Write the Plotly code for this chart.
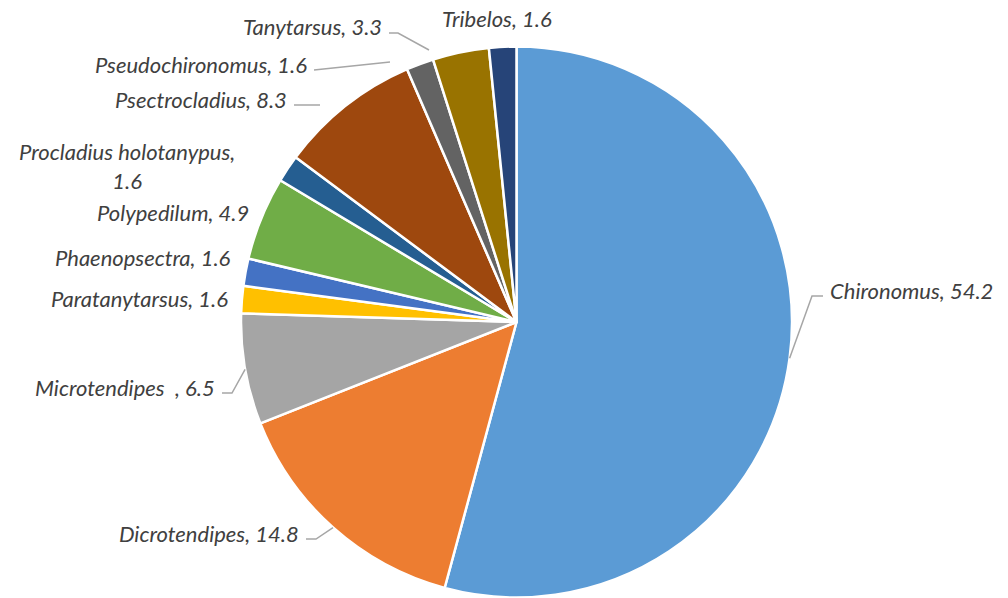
import math
import plotly.graph_objects as go

# ---- data ----
genera = ["Chironomus", "Dicrotendipes", "Microtendipes  ", "Paratanytarsus", "Phaenopsectra",
          "Polypedilum", "Procladius holotanypus", "Psectrocladius", "Pseudochironomus",
          "Tanytarsus", "Tribelos"]
percent = [54.2, 14.8, 6.5, 1.6, 1.6, 4.9, 1.6, 8.3, 1.6, 3.3, 1.6]
colors = ["#5B9BD5", "#ED7D31", "#A5A5A5", "#FFC000", "#4472C4", "#70AD47",
          "#255E91", "#9E480E", "#636363", "#997300", "#264478"]

# ---- layout ----
W, H = 1008, 598
CX, CY, R = 516.5, 322.0, 275.5   # pie centre / radius in px (from top-left)

# label placement (px): x, y, xanchor, leader knee x (None = no leader), leader end override
label_pos = [
    (828, 290, "left", 812, None),
    (301, 533, "right", 316, None),
    (217, 387, "right", 232, None),
    (230, 298, "right", None, None),
    (233, 258, "right", None, None),
    (251, 212, "right", None, None),
    (127, 166, "center", None, None),
    (289, 99, "right", 320, (320, 105)),
    (309, 64, "right", 314, (390, 62)),
    (384, 27, "right", 398, (429, 50)),
    (497, 19, "center", None, None),
]
wrap = {"Procladius holotanypus": "Procladius holotanypus,<br>"}

def px(x):
    return x / W

def py(y):
    return 1 - y / H

fig = go.Figure(go.Pie(
    labels=genera, values=percent, sort=False, direction="clockwise", rotation=0,
    marker=dict(colors=colors, line=dict(color="white", width=2.5)),
    textinfo="none", hoverinfo="label+value", showlegend=False,
    domain=dict(x=[px(CX - R), px(CX + R)], y=[py(CY + R), py(CY - R)]),
))

annotations = []
shapes = []
total = sum(percent)
cum = 0.0
for name, val, (lx, ly, anchor, knee, end) in zip(genera, percent, label_pos):
    mid = (cum + val / 2) / total * 2 * math.pi
    cum += val
    tx = CX + R * math.sin(mid)
    ty = CY - R * math.cos(mid)
    if end is not None:
        tx, ty = end
    nm = name.replace(" ", "\u00a0") if name.endswith(" ") else name
    text = wrap[name] + f"{val}" if name in wrap else f"{nm}, {val}"
    annotations.append(dict(
        x=px(lx), y=py(ly), xref="paper", yref="paper", text=text, showarrow=False,
        xanchor=anchor, yanchor="middle", align="center",
        font=dict(family="Lato", size=22, color="#404040", style="italic"),
    ))
    if knee is not None:
        sx = lx - 5 if anchor == "left" else lx + 5
        ly2 = ly + 6
        path = f"M {px(sx)},{py(ly2)} L {px(knee)},{py(ly2)} L {px(tx)},{py(ty)}"
        shapes.append(dict(type="path", path=path, xref="paper", yref="paper",
                           line=dict(color="#A6A6A6", width=1.5)))

fig.update_layout(
    width=W, height=H, margin=dict(l=0, r=0, t=0, b=0),
    paper_bgcolor="white", plot_bgcolor="white",
    annotations=annotations, shapes=shapes,
)
fig.write_html("out.html")
